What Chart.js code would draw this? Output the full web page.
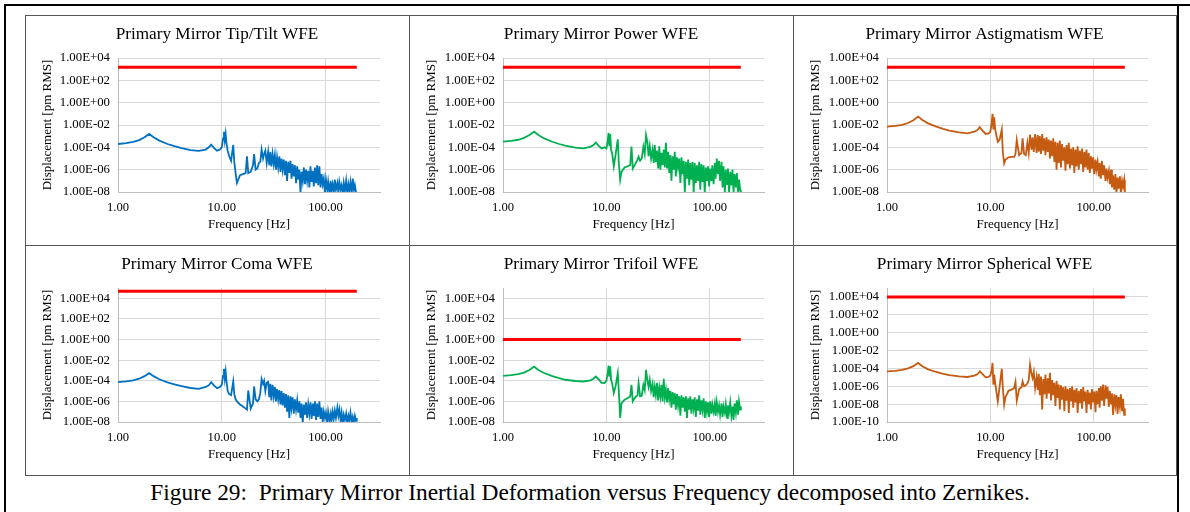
<!DOCTYPE html>
<html><head><meta charset="utf-8">
<script src="https://cdn.jsdelivr.net/npm/chart.js@4.4.0/dist/chart.umd.min.js"></script>
<style>
html,body{margin:0;padding:0;background:#fff;}
body{width:1190px;height:512px;position:relative;overflow:hidden;font-family:'Liberation Serif','Times New Roman',serif;}
.fr{position:absolute;background:#000;}
.panel{position:absolute;box-sizing:border-box;border:1px solid #555;overflow:visible;}
.panel canvas{position:absolute;left:-1px;top:-1px;}
#caption{position:absolute;left:-5px;width:1190px;top:479px;height:26px;line-height:26px;text-align:center;font-size:23.4px;white-space:pre;color:#000;}
</style></head><body>
<div class="fr" style="left:4px;top:4px;width:1186px;height:2px"></div>
<div class="fr" style="left:4px;top:4px;width:2px;height:508px"></div>
<div class="fr" style="left:1177px;top:4px;width:2px;height:508px"></div>
<div id="panels"></div>
<div id="caption">Figure 29:  Primary Mirror Inertial Deformation versus Frequency decomposed into Zernikes.</div>
<script>
// Frequency [Hz] (shared x values)
const freqHz = [1,1.2,1.4,1.6,1.8,2,2.2,2.5,3,3.5,4,5,6,7,7.5,7.9,8.4,9,9.6,10,10.3,10.5,10.7,10.9,11.1,11.4,11.8,12.3,12.9,13.2,13.6,14,15,16,17,17.5,18,19,20,20.5,21.2,22,22.8,23.5,24.2,25,25.6,26.3,27.1,
28,28.7,29.4,30.1,30.9,31.7,32.5,33.3,34.1,35,35.9,36.8,37.7,38.6,39.6,40.6,41.6,42.6,43.7,44.8,45.9,47,48.2,49.4,50.7,52,53.3,54.6,56,57.4,58.8,60.3,61.8,63.3,64.9,66.5,68.2,69.9,71.6,73.4,75.3,77.1,79.1,81,83.1,85.1,87.3,89.5,91.7,94,96.3,98.7,101,104,106,109,112,114,117,120,123,126,130,133,136,140,143,147,150,154,158,162,166,170,174,179,183,188,192,197,200];

// Displacement, as log10 of [pm RMS]
const tipTiltExp = [-3.7,-3.62,-3.5,-3.35,-3.1,-2.8,-3.1,-3.4,-3.7,-3.9,
-4.05,-4.25,-4.32,-4.2,-4.0,-3.76,-4.05,-4.3,-4.2,-4.0,
-3.2,-2.6,-3.4,-2.8,-3.6,-4.3,-4.8,-5.2,-3.8,-5.3,
-6.3,-7.2,-6.5,-6.4,-6.3,-4.8,-6.3,-6.2,-5.6,-4.6,
-6.0,-5.9,-5.4,-5.3,-4.2,-5.0,-4.6,-4.3,-5.4,
-4.4,-5.6,-4.4,-5.7,-4.6,-5.5,-4.7,-6.0,-4.9,-5.8,
-4.8,-6.2,-5.0,-6.0,-5.1,-6.5,-5.2,-7.0,-5.3,-6.3,
-5.2,-6.8,-5.5,-6.6,-5.6,-7.2,-5.7,-6.9,-6.0,-8.1,
-6.2,-7.0,-5.8,-7.3,-6.0,-7.0,-6.1,-7.6,-5.7,-7.1,
-6.1,-7.5,-5.8,-7.2,-5.6,-7.4,-5.7,-7.6,-6.4,-7.3,
-6.8,-8.1,-6.9,-7.8,-7.1,-8.1,-7.0,-7.9,-7.3,-8.1,
-6.9,-7.8,-7.2,-8.1,-7.1,-7.8,-7.4,-8.1,-7.2,-7.9,
-7.0,-8.1,-7.3,-7.9,-7.1,-8.1,-6.8,-7.8,-7.4,-8.1,
-8.1];

const powerExp = [-3.49,-3.42,-3.32,-3.15,-2.9,-2.6,-2.9,-3.2,-3.5,-3.7,
-3.85,-4.02,-4.09,-3.95,-3.8,-3.58,-3.85,-4.1,-4.0,-4.1,
-3.5,-2.69,-3.9,-2.8,-4.2,-4.6,-5.7,-4.6,-3.28,-5.4,
-6.9,-6.2,-5.8,-5.7,-5.6,-3.94,-5.9,-5.5,-5.1,-4.83,
-5.2,-5.0,-3.94,-4.6,-2.9,-3.6,-4.8,-3.9,-5.0,
-4.2,-5.4,-3.8,-5.3,-4.3,-5.9,-3.9,-6.0,-4.5,-5.6,
-4.2,-5.8,-3.6,-5.9,-4.4,-6.3,-4.7,-7.0,-4.8,-6.0,
-4.4,-6.6,-4.9,-5.8,-5.0,-7.2,-4.9,-6.4,-5.2,-8.1,
-5.3,-6.8,-5.1,-7.4,-5.4,-6.9,-5.3,-8.1,-5.4,-7.2,
-5.6,-7.0,-5.3,-7.8,-5.5,-7.1,-5.6,-8.1,-5.8,-7.0,
-5.7,-7.5,-5.9,-7.0,-5.6,-7.3,-5.4,-6.8,-5.0,-6.4,
-5.2,-7.0,-5.3,-7.6,-5.7,-8.1,-6.0,-7.3,-5.9,-8.1,
-6.2,-7.4,-6.0,-8.1,-6.4,-7.6,-6.3,-8.1,-6.9,-7.8,
-8.1];

const astigExp = [-2.15,-2.08,-1.98,-1.82,-1.58,-1.25,-1.55,-1.85,-2.15,-2.35,
-2.5,-2.66,-2.74,-2.6,-2.45,-2.2,-2.5,-2.8,-2.75,-2.6,
-1.8,-1.0,-2.4,-1.3,-2.3,-2.9,-3.5,-3.3,-2.4,-4.4,
-5.43,-5.1,-4.9,-4.85,-4.85,-4.6,-3.34,-4.7,-4.5,-3.2,
-4.6,-4.7,-3.6,-4.5,-2.85,-4.2,-3.1,-4.4,-2.8,
-4.5,-2.9,-4.4,-3.0,-4.6,-2.8,-4.3,-3.2,-4.7,-3.1,
-4.4,-3.3,-5.0,-3.4,-4.8,-3.2,-5.3,-3.5,-6.0,-3.6,
-5.4,-3.4,-5.8,-3.7,-5.2,-4.0,-6.1,-3.8,-5.5,-3.6,
-5.9,-4.1,-5.6,-4.0,-6.3,-4.2,-5.7,-3.9,-6.0,-4.3,
-5.5,-4.1,-6.2,-4.4,-5.8,-4.2,-6.0,-4.5,-6.3,-4.8,
-5.9,-4.9,-6.4,-5.1,-6.0,-5.3,-6.6,-5.4,-6.8,-5.2,
-6.5,-5.6,-7.0,-5.9,-6.7,-6.1,-7.3,-6.0,-7.6,-6.5,
-7.8,-6.4,-8.1,-6.7,-7.7,-6.6,-8.1,-7.0,-7.5,-6.9,
-8.1];

const comaExp = [-4.13,-4.05,-3.95,-3.8,-3.55,-3.26,-3.55,-3.85,-4.15,-4.35,
-4.5,-4.7,-4.78,-4.6,-4.45,-4.13,-4.45,-4.72,-4.6,-4.4,
-3.5,-2.84,-3.8,-3.1,-4.0,-5.0,-5.3,-5.4,-4.07,-5.3,
-5.8,-6.0,-6.3,-6.5,-6.7,-6.8,-4.94,-6.7,-6.2,-4.55,
-5.8,-6.0,-5.8,-5.2,-3.84,-4.3,-4.0,-5.0,-4.2,
-4.1,-5.6,-4.3,-5.9,-4.4,-5.5,-4.6,-6.0,-4.8,-5.8,
-4.9,-6.3,-5.0,-6.4,-5.2,-6.6,-5.3,-7.0,-5.4,-7.6,
-5.5,-6.6,-5.6,-7.2,-5.8,-6.8,-5.9,-7.1,-6.0,-7.6,
-6.2,-8.1,-6.3,-7.3,-6.1,-7.6,-6.3,-7.2,-6.1,-7.7,
-6.2,-7.4,-6.0,-7.8,-6.2,-7.5,-6.0,-7.7,-6.6,-8.0,
-7.0,-7.6,-7.1,-8.1,-7.0,-7.8,-7.2,-8.0,-7.0,-7.7,
-6.9,-7.6,-6.6,-7.4,-6.8,-7.9,-7.1,-8.1,-7.3,-7.8,
-7.2,-8.1,-7.4,-7.9,-7.1,-8.0,-7.5,-8.1,-7.4,-7.9,
-7.6];

const trifoilExp = [-3.52,-3.45,-3.35,-3.2,-2.95,-2.62,-2.95,-3.25,-3.55,-3.75,
-3.9,-4.02,-4.07,-3.95,-3.8,-3.59,-3.85,-4.2,-4.23,-4.0,
-3.3,-2.52,-3.6,-2.6,-3.9,-4.3,-5.19,-4.5,-3.26,-5.0,
-7.6,-6.2,-5.84,-5.7,-5.52,-4.39,-6.0,-5.6,-5.4,-4.23,
-5.5,-5.45,-4.4,-4.9,-2.94,-4.0,-4.6,-3.9,-5.0,
-4.3,-5.6,-4.6,-5.4,-4.2,-5.9,-4.7,-5.5,-4.4,-6.0,
-3.8,-5.6,-4.9,-6.1,-4.7,-5.8,-5.0,-6.6,-5.1,-6.3,
-5.2,-6.8,-5.3,-6.4,-5.5,-7.4,-5.4,-6.6,-5.6,-7.0,
-5.5,-7.6,-5.7,-6.8,-5.5,-7.2,-5.8,-6.7,-5.6,-7.5,
-5.8,-6.9,-5.4,-7.3,-5.9,-6.8,-5.7,-7.6,-6.0,-7.0,
-6.1,-7.5,-6.0,-7.2,-6.3,-7.0,-6.2,-7.4,-6.1,-7.0,
-6.4,-7.3,-6.2,-7.5,-6.5,-7.1,-6.3,-7.6,-6.4,-7.0,
-6.1,-7.4,-6.5,-7.8,-6.2,-7.1,-5.9,-7.3,-6.0,-6.8,
-6.5];

const sphericalExp = [-4.34,-4.27,-4.17,-4.0,-3.75,-3.39,-3.75,-4.1,-4.4,-4.6,
-4.75,-4.9,-4.96,-4.8,-4.65,-4.34,-4.65,-5.0,-4.95,-4.8,
-4.2,-3.39,-5.82,-4.7,-5.5,-6.5,-7.7,-6.0,-4.03,-6.2,
-8.06,-7.2,-6.5,-6.38,-6.2,-5.52,-7.6,-6.3,-6.1,-5.45,
-6.0,-5.9,-5.7,-5.3,-3.58,-4.6,-5.07,-4.4,-6.2,
-5.0,-6.4,-4.6,-7.0,-4.9,-8.6,-5.2,-6.9,-4.7,-7.4,
-5.1,-6.8,-4.5,-7.6,-5.3,-7.0,-5.6,-8.2,-5.4,-7.3,
-5.8,-8.6,-5.9,-7.5,-6.1,-8.8,-6.0,-7.6,-6.3,-9.0,
-6.2,-7.7,-6.0,-8.4,-6.4,-7.8,-6.2,-9.0,-6.5,-7.9,
-6.3,-8.5,-6.1,-7.7,-6.6,-9.0,-6.4,-8.0,-6.7,-8.6,
-6.3,-7.8,-6.6,-8.9,-6.5,-8.0,-6.2,-8.4,-6.0,-7.6,
-5.8,-8.2,-5.9,-7.4,-6.1,-8.3,-6.5,-7.9,-6.8,-9.2,
-6.9,-8.1,-7.0,-9.1,-7.2,-8.3,-6.9,-8.8,-7.4,-9.2,
-8.5];

// Requirement (red) levels [pm RMS]
const tipTiltLimit = 1500;
const powerLimit = 1500;
const astigLimit = 1500;
const comaLimit = 50000;
const trifoilLimit = 1;
const sphericalLimit = 10000;

// Tick labels
const xTickValues = [1, 10, 100];
const yTicksMain = [1e-8, 1e-6, 1e-4, 1e-2, 1, 1e2, 1e4];
const yTicksSpherical = [1e-10, 1e-8, 1e-6, 1e-4, 1e-2, 1, 1e2, 1e4];

const titles = ['Primary Mirror Tip/Tilt WFE','Primary Mirror Power WFE','Primary Mirror Astigmatism WFE',
  'Primary Mirror Coma WFE','Primary Mirror Trifoil WFE','Primary Mirror Spherical WFE'];

const BLUE = '#0070C0', GREEN = '#00B050', ORANGE = '#C55A11', RED = '#FF0000';
const FONT = "'Liberation Serif','Times New Roman',serif";

function fmtSci(v) {
  const e = Math.round(Math.log10(v));
  return '1.00E' + (e < 0 ? '-' : '+') + String(Math.abs(e)).padStart(2, '0');
}

const panelDefs = [
  {x:25,  y:15,  w:384, h:230, title:titles[0], exps:tipTiltExp,   color:BLUE,   limit:tipTiltLimit,   yMin:1e-8,  yMax:1e4, yTicks:yTicksMain, left:93},
  {x:409, y:15,  w:384, h:230, title:titles[1], exps:powerExp,     color:GREEN,  limit:powerLimit,     yMin:1e-8,  yMax:1e4, yTicks:yTicksMain, left:94},
  {x:793, y:15,  w:383, h:230, title:titles[2], exps:astigExp,     color:ORANGE, limit:astigLimit,     yMin:1e-8,  yMax:1e4, yTicks:yTicksMain, left:94},
  {x:25,  y:245, w:384, h:230, title:titles[3], exps:comaExp,      color:BLUE,   limit:comaLimit,      yMin:1e-8,  yMax:1e5, yTicks:yTicksMain, left:93},
  {x:409, y:245, w:384, h:230, title:titles[4], exps:trifoilExp,   color:GREEN,  limit:trifoilLimit,   yMin:1e-8,  yMax:1e5, yTicks:yTicksMain, left:94},
  {x:793, y:245, w:383, h:230, title:titles[5], exps:sphericalExp, color:ORANGE, limit:sphericalLimit, yMin:1e-10, yMax:1e5, yTicks:yTicksSpherical, left:94}
];

const host = document.getElementById('panels');
panelDefs.forEach((p, i) => {
  const div = document.createElement('div');
  div.className = 'panel';
  div.style.left = p.x + 'px'; div.style.top = p.y + 'px';
  div.style.width = (p.w + 1) + 'px'; div.style.height = (p.h + 1) + 'px';
  const cv = document.createElement('canvas');
  cv.width = p.w; cv.height = p.h;
  cv.style.width = p.w + 'px'; cv.style.height = p.h + 'px';
  div.appendChild(cv);
  host.appendChild(div);

  const n = Math.min(freqHz.length, p.exps.length);
  const series = [];
  for (let k = 0; k < n; k++) series.push({x: freqHz[k], y: Math.pow(10, p.exps[k])});
  const limitLine = [{x: freqHz[0], y: p.limit}, {x: freqHz[freqHz.length - 1], y: p.limit}];

  new Chart(cv, {
    type: 'line',
    data: { datasets: [
      { data: series, borderColor: p.color, borderWidth: 1.8, pointRadius: 0, tension: 0, fill: false, yAxisID: 'y' },
      { data: limitLine, borderColor: RED, borderWidth: 3, pointRadius: 0, tension: 0, fill: false, yAxisID: 'y' }
    ]},
    options: {
      responsive: false, animation: false, devicePixelRatio: 1,
      layout: { padding: 0 },
      plugins: {
        legend: { display: false }, tooltip: { enabled: false },
        title: { display: true, text: p.title, color: '#000',
          font: { family: FONT, size: 17.2, weight: 'normal' }, padding: { top: 9, bottom: 13.4 } }
      },
      scales: {
        x: {
          type: 'logarithmic', min: 1, max: 335,
          afterBuildTicks: s => { s.ticks = xTickValues.map(v => ({ value: v })); },
          afterFit: s => { s.height = 53; },
          grid: { color: '#d9d9d9', drawTicks: false, lineWidth: 1 },
          border: { color: '#bfbfbf' },
          ticks: { color: '#000', font: { family: FONT, size: 12.6 }, padding: 8.5, maxRotation: 0, autoSkip: false,
            callback: v => Number(v).toFixed(2) },
          title: { display: true, text: 'Frequency [Hz]', color: '#000', font: { family: FONT, size: 13 },
            padding: { top: 0, bottom: 12.2 } }
        },
        y: {
          type: 'logarithmic', min: p.yMin, max: p.yMax,
          afterBuildTicks: s => { s.ticks = p.yTicks.map(v => ({ value: v })); },
          afterFit: s => { s.width = p.left; },
          grid: { color: '#d9d9d9', drawTicks: false, lineWidth: 1 },
          border: { color: '#bfbfbf' },
          ticks: { color: '#000', font: { family: FONT, size: 12.8 }, padding: 8, autoSkip: false,
            callback: v => fmtSci(v) },
          title: { display: true, text: 'Displacement [pm RMS]', color: '#000', font: { family: FONT, size: 13 },
            padding: { top: 15.2, bottom: 0 } }
        },
        gap: {
          type: 'linear', position: 'right', display: true,
          afterFit: s => { s.width = p.w - 355; },
          grid: { display: false, drawTicks: false }, border: { display: false },
          ticks: { display: false }, title: { display: false }
        }
      }
    }
  });
});
</script>
</body></html>
